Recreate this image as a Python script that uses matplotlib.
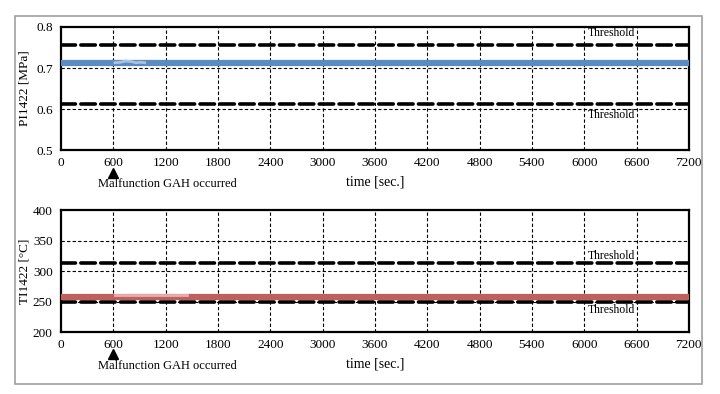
#!/usr/bin/env python3
"""Pressure / temperature trend with thresholds (PI1422, TI1422)."""
import matplotlib
matplotlib.use('Agg')
import matplotlib.pyplot as plt
from matplotlib.patches import Rectangle

# --- data ---
time_ticks = [0, 600, 1200, 1800, 2400, 3000, 3600, 4200, 4800, 5400, 6000, 6600, 7200]

pi_time = [0, 600, 7200]
pi_value = [0.713, 0.713, 0.713]
pi_blip_time = [620, 680, 740, 800, 860, 920, 960]
pi_blip_value = [0.713, 0.714, 0.717, 0.716, 0.713, 0.714, 0.713]
pi_thresholds = [0.756, 0.613]
pi_ticks = [0.5, 0.6, 0.7, 0.8]

ti_time = [0, 600, 7200]
ti_value = [258, 258, 258]
ti_blip_time = [620, 1000, 1440]
ti_blip_value = [261, 261, 261]
ti_thresholds = [313, 249]
ti_ticks = [200, 250, 300, 350, 400]

event_time = 600
event_label = 'Malfunction GAH occurred'

plt.rcParams['font.family'] = ['Liberation Serif', 'DejaVu Serif']

fig = plt.figure(figsize=(7.2, 3.94), dpi=100)
fig.patches.append(Rectangle((0.0208, 0.0254), 0.954, 0.934, transform=fig.transFigure,
                             fill=False, edgecolor='#a0a0a0', linewidth=1.2))

ax1 = fig.add_axes([0.0847, 0.619, 0.872, 0.3125])
ax2 = fig.add_axes([0.0847, 0.157, 0.872, 0.310])


def style_axis(ax, yticks, ylabel, thresholds, label_y, t, v, bt, bv, color, blip_color, fmt):
    ax.set_xlim(0, 7200)
    ax.set_ylim(yticks[0], yticks[-1])
    ax.set_xticks(time_ticks)
    ax.set_yticks(yticks)
    ax.set_yticklabels([fmt(y) for y in yticks])
    ax.tick_params(length=0, labelsize=9.5)
    ax.tick_params(axis='y', pad=6)
    ax.tick_params(axis='x', pad=5)
    for s in ax.spines.values():
        s.set_linewidth(1.6)
    for x in time_ticks[1:-1]:
        ax.axvline(x, color='black', linestyle=(0, (3, 2)), linewidth=0.8, zorder=1)
    for y in yticks[1:-1]:
        ax.axhline(y, color='black', linestyle=(0, (3, 2)), linewidth=0.8, zorder=1)
    for th in thresholds:
        ax.axhline(th, color='black', linewidth=2.6, linestyle=(0, (4.0, 1.5)),
                   dash_capstyle='round', zorder=2)
    ax.plot(t, v, color=color, linewidth=4.5, solid_capstyle='round', zorder=3)
    ax.plot(bt, bv, color=blip_color, linewidth=2.0, zorder=4)
    for ly in label_y:
        ax.text(6310, ly, 'Threshold', fontsize=8.5, ha='center', va='center', zorder=5)
    ax.set_ylabel(ylabel, fontsize=9.5)
    ax.yaxis.set_label_coords(-0.048, 0.5)
    ax.set_xlabel('time [sec.]', fontsize=10)
    ax.xaxis.set_label_coords(0.5, -0.21)
    ax.plot([event_time], [-0.183], marker='^', color='black', markersize=6.5,
            transform=ax.get_xaxis_transform(), clip_on=False)
    ax.text(420, -0.275, event_label, fontsize=9, ha='left', va='center',
            transform=ax.get_xaxis_transform())


style_axis(ax1, pi_ticks, 'PI1422 [MPa]', pi_thresholds, [0.785, 0.585],
           pi_time, pi_value, pi_blip_time, pi_blip_value, '#5b8cbf', '#a9c3df',
           lambda y: f'{y:.1f}')
style_axis(ax2, ti_ticks, 'TI1422 [°C]', ti_thresholds, [325, 236],
           ti_time, ti_value, ti_blip_time, ti_blip_value, '#c0605e', '#e4b0ae',
           lambda y: f'{y:d}')

fig.savefig('out.png', dpi=100)
